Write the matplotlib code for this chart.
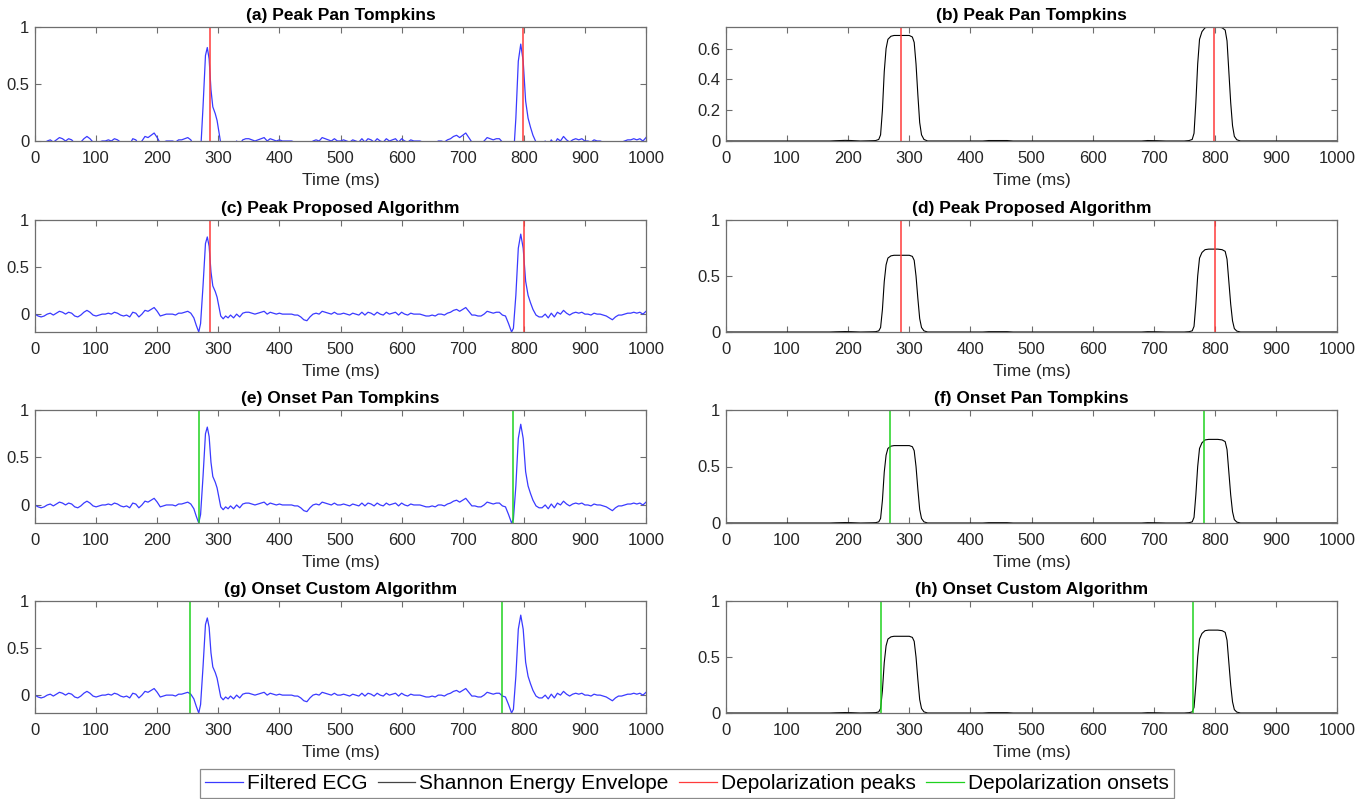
import matplotlib
matplotlib.use("Agg")
import matplotlib.pyplot as plt
from matplotlib.lines import Line2D

plt.rcParams['font.family'] = ['Liberation Sans', 'DejaVu Sans']

# filtered ECG (time in ms, amplitude)
ecg_t = [0, 5, 10, 15, 20, 25, 30, 35, 40, 45, 50, 55, 60, 65, 70, 75, 80, 85, 90, 95,
         100, 105, 110, 115, 120, 125, 130, 135, 140, 145, 150, 155, 160, 165, 170, 175,
         180, 185, 190, 195, 200, 205, 210, 215, 220, 225, 230, 235, 240, 245, 250, 255,
         260, 264, 268, 271, 275, 279, 282, 285, 288, 291, 295, 298, 301, 304, 308, 312,
         316, 320, 325, 330, 335, 340, 345, 350, 355, 360, 365, 370, 375, 380, 385, 390,
         395, 400, 405, 410, 415, 420, 425, 430, 435, 440, 445, 450, 455, 460, 465, 470,
         475, 480, 485, 490, 495, 500, 505, 510, 515, 520, 525, 530, 535, 540, 545, 550,
         555, 560, 565, 570, 575, 580, 585, 590, 595, 600, 605, 610, 615, 620, 625, 630,
         635, 640, 645, 650, 655, 660, 665, 670, 675, 680, 685, 690, 695, 700, 705, 710,
         715, 720, 725, 730, 735, 740, 745, 750, 755, 760, 765, 770, 775, 780, 783, 787,
         791, 795, 799, 803, 807, 811, 815, 820, 825, 830, 835, 840, 845, 850, 855, 860,
         865, 870, 875, 880, 885, 890, 895, 900, 905, 910, 915, 920, 925, 930, 935, 940,
         945, 950, 955, 960, 965, 970, 975, 980, 985, 990, 995, 1000]
ecg_v = [0.00, -0.02, -0.03, -0.02, 0.00, 0.01, -0.01, 0.01, 0.03, 0.02, 0.00, 0.02,
         0.01, -0.02, -0.03, -0.01, 0.02, 0.04, 0.02, -0.01, -0.02, -0.01, 0.00, 0.00,
         0.01, 0.00, 0.02, 0.01, -0.01, -0.02, -0.01, -0.03, 0.02, 0.01, -0.03, 0.00,
         0.04, 0.03, 0.05, 0.07, 0.03, -0.02, -0.01, 0.00, 0.00, 0.00, -0.01, 0.01,
         0.01, 0.02, 0.03, 0.01, -0.04, -0.12, -0.19, -0.10, 0.30, 0.75, 0.82, 0.72,
         0.45, 0.30, 0.24, 0.18, 0.08, -0.02, -0.05, -0.02, -0.04, -0.01, -0.04, 0.00,
         -0.03, 0.01, 0.02, 0.02, 0.01, 0.00, 0.01, 0.02, 0.03, 0.00, 0.02, 0.01,
         0.00, 0.01, 0.00, 0.00, 0.00, 0.00, -0.01, -0.01, -0.03, -0.06, -0.07, -0.03,
         0.00, 0.01, 0.00, 0.03, 0.02, 0.01, 0.00, 0.02, 0.00, 0.00, 0.01, 0.00,
         -0.01, 0.01, 0.00, -0.01, 0.02, -0.01, 0.02, 0.01, -0.01, 0.02, 0.00, -0.01,
         0.02, 0.00, 0.01, 0.02, -0.01, 0.02, 0.00, -0.01, 0.01, 0.00, 0.00, 0.00,
         -0.01, -0.02, -0.02, -0.01, -0.02, 0.00, 0.00, -0.01, 0.01, 0.02, 0.04, 0.05,
         0.03, 0.05, 0.07, 0.03, -0.01, -0.01, -0.02, -0.02, 0.00, 0.03, 0.02, 0.01,
         0.02, 0.02, -0.01, -0.02, -0.10, -0.19, -0.15, 0.20, 0.70, 0.85, 0.70, 0.35,
         0.20, 0.12, 0.05, -0.01, -0.03, -0.03, 0.00, -0.04, 0.01, -0.03, 0.02, 0.00,
         0.04, 0.01, -0.01, 0.01, 0.02, 0.01, 0.02, 0.00, 0.00, -0.01, 0.01, 0.00,
         0.00, -0.01, -0.02, -0.04, -0.06, -0.03, -0.01, -0.01, 0.00, 0.01, 0.01, 0.02,
         0.01, 0.02, 0.00, 0.03]

# shannon energy envelope
env_t = [0, 170, 180, 195, 205, 220, 240, 245, 250, 253, 256, 259, 262, 265, 270, 275,
         290, 300, 305, 308, 311, 314, 317, 320, 324, 330, 420, 430, 460, 470, 680, 690,
         705, 720, 750, 758, 763, 766, 769, 772, 775, 779, 784, 790, 805, 812, 817, 820,
         823, 826, 829, 832, 836, 842, 1000]
env_v = [0, 0, 0.002, 0.004, 0.003, 0, 0.002, 0.003, 0.01, 0.04, 0.2, 0.45, 0.6, 0.66,
         0.68, 0.685, 0.685, 0.685, 0.675, 0.64, 0.5, 0.3, 0.12, 0.04, 0.01, 0, 0, 0.003,
         0.003, 0, 0, 0.003, 0.002, 0, 0, 0.003, 0.01, 0.05, 0.25, 0.5, 0.66, 0.71, 0.735,
         0.74, 0.74, 0.735, 0.72, 0.65, 0.45, 0.25, 0.1, 0.03, 0.008, 0, 0]

# detected events (ms)
pan_peaks = [286, 798]
prop_peaks = [286, 800]
pan_onsets = [269, 782]
custom_onsets = [253, 765]

titles = ["(a) Peak Pan Tompkins", "(b) Peak Pan Tompkins",
          "(c) Peak Proposed Algorithm", "(d) Peak Proposed Algorithm",
          "(e) Onset Pan Tompkins", "(f) Onset Pan Tompkins",
          "(g) Onset Custom Algorithm", "(h) Onset Custom Algorithm"]

BLUE = "#3a3aff"
RED = "#ff3b3b"
GREEN = "#1fd21f"
BOX = "#6e6e6e"

W, H = 1364, 799
fig = plt.figure(figsize=(W / 100, H / 100), dpi=100)

# axes boxes in pixels: (top, bottom)
rows = [(27, 141), (220, 332), (410, 523), (601, 713)]
cols = [(35, 646), (726, 1337)]


def makeAx(r, c):
    top, bot = rows[r]
    left, right = cols[c]
    return fig.add_axes([left / W, 1 - bot / H, (right - left) / W, (bot - top) / H])


def styleAx(ax, title, ylo, yhi, yticks):
    ax.set_xlim(0, 1000)
    ax.set_ylim(ylo, yhi)
    ax.set_xticks(range(0, 1001, 100))
    ax.set_yticks(yticks)
    ax.set_yticklabels(["%g" % v for v in yticks])
    ax.tick_params(direction='in', length=4, width=0.8, color=BOX, labelsize=12,
                   top=True, right=True, labelcolor="#262626")
    ax.tick_params(axis='x', pad=7)
    ax.tick_params(axis='y', pad=4)
    for s in ax.spines.values():
        s.set_color(BOX)
        s.set_linewidth(0.9)
    ax.set_xlabel("Time (ms)", fontsize=12.5, color="#262626", labelpad=5)
    ax.set_title(title, fontsize=12.5, fontweight='bold', pad=5)


events = [(pan_peaks, RED), (prop_peaks, RED), (pan_onsets, GREEN), (custom_onsets, GREEN)]

for r in range(4):
    marks, col = events[r]

    # left column: filtered ECG
    ax = makeAx(r, 0)
    ax.plot(ecg_t, ecg_v, color=BLUE, lw=0.9)
    for m in marks:
        ax.axvline(m, color=col, lw=1.1)
    if r == 0:
        styleAx(ax, titles[0], 0, 1, [0, 0.5, 1])
    else:
        styleAx(ax, titles[2 * r], -0.19, 1, [0, 0.5, 1])

    # right column: shannon energy envelope
    ax = makeAx(r, 1)
    ax.plot(env_t, env_v, color="black", lw=0.8)
    for m in marks:
        ax.axvline(m, color=col, lw=1.1)
    if r == 0:
        styleAx(ax, titles[1], 0, 0.74, [0, 0.2, 0.4, 0.6])
    else:
        styleAx(ax, titles[2 * r + 1], 0, 1, [0, 0.5, 1])

# legend along the bottom
handles = [Line2D([], [], color=BLUE, lw=0.9), Line2D([], [], color="#444444", lw=0.9),
           Line2D([], [], color=RED, lw=0.9), Line2D([], [], color=GREEN, lw=0.9)]
labels = ["Filtered ECG", "Shannon Energy Envelope", "Depolarization peaks",
          "Depolarization onsets"]
leg = fig.legend(handles, labels, loc='upper center', bbox_to_anchor=(687 / W, 1 - 769 / H),
                 ncol=4, fontsize=15, frameon=True, fancybox=False, handlelength=1.8,
                 handletextpad=0.2, columnspacing=0.5, borderpad=0.25, borderaxespad=0)
leg.get_frame().set_edgecolor(BOX)
leg.get_frame().set_linewidth(0.9)

fig.savefig("out.png", dpi=100)
